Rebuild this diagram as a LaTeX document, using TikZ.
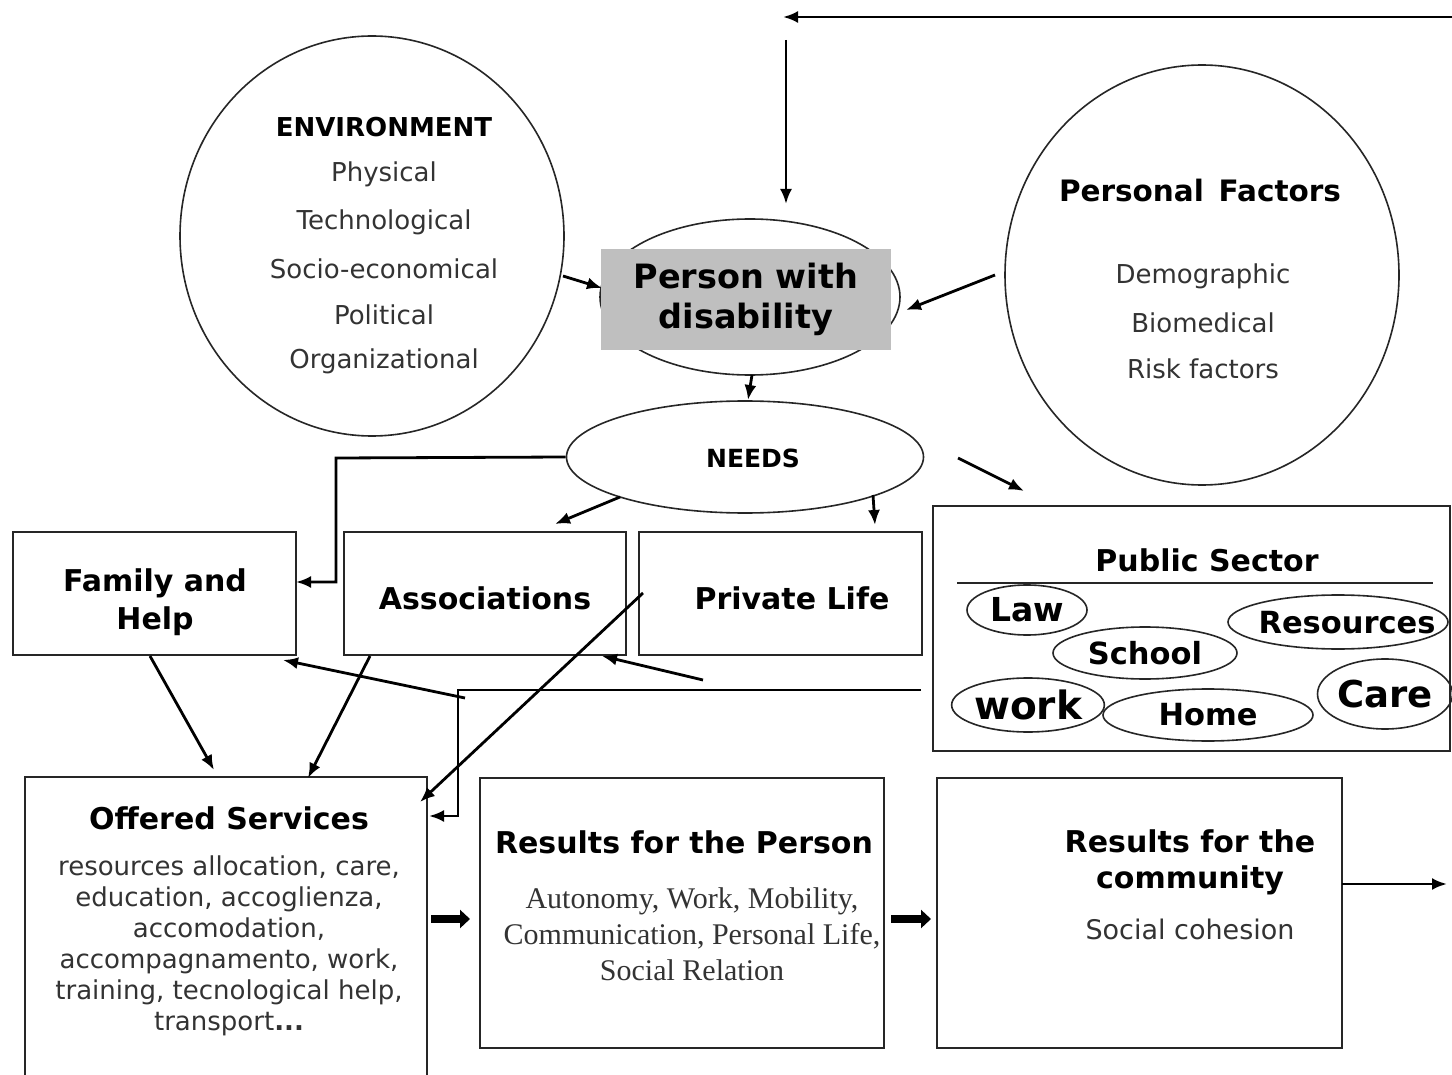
\documentclass[tikz,border=0pt]{standalone}
\usepackage{fontspec}
\setmainfont{DejaVu Sans}
\newfontfamily\serifrm{Liberation Serif}
\usetikzlibrary{shapes.geometric,arrows.meta}
\begin{document}
\begin{tikzpicture}[x=1pt,y=-1pt,
  arr/.style={line width=2.8pt,-{Latex[length=15pt,width=12pt]}},
  fatarr/.style={line width=8pt,-{Triangle[length=10pt,width=18pt]}},
  oval/.style={draw=black!85,line width=1.6pt,ellipse,inner sep=0pt},
  boxx/.style={draw=black!85,line width=2.2pt},
  body/.style={font=\fontsize{26}{30}\selectfont,text=black!80},
  ttl/.style={font=\fontsize{30}{38}\selectfont\bfseries,align=center},
  pitem/.style={font=\fontsize{30.5}{32}\selectfont\bfseries},
]
\useasboundingbox (0,0) rectangle (1452,1075);
\fill[white] (0,0) rectangle (1452,1075);

% environment
\node[oval,minimum width=384pt,minimum height=400pt] (env) at (372,236) {};
\node[font=\fontsize{26}{28}\selectfont\bfseries] (envt) at (384,127) {ENVIRONMENT};
\node[body] (e1) at (384,174) {Physical};
\node[body] (e2) at (384,222) {Technological};
\node[body] (e3) at (384,269) {Socio-economical};
\node[body] (e4) at (384,315) {Political};
\node[body] (e5) at (384,361) {Organizational};

% personal factors
\node[oval,minimum width=394pt,minimum height=420pt] (pf) at (1202,275) {};
\node[ttl,font=\fontsize{29.5}{38}\selectfont\bfseries] (pft) at (1200,191) {Personal\hspace{0.15em} Factors};
\node[body] (p1) at (1203,276) {Demographic};
\node[body] (p2) at (1203,323) {Biomedical};
\node[body] (p3) at (1203,369) {Risk factors};

% person with disability
\node[oval,minimum width=300pt,minimum height=156pt] (pov) at (750,297) {};
\node[fill=black!25,minimum width=290pt,minimum height=101pt,inner sep=0pt,align=center,
  font=\fontsize{33.5}{40}\selectfont\bfseries] (person) at (746,299.5) {Person with\\disability};

% needs
\node[oval,minimum width=357pt,minimum height=112pt] (needs) at (745,457) {};
\node[font=\fontsize{25}{26}\selectfont\bfseries] (needst) at (753,458) {NEEDS};

% middle boxes
\node[boxx,minimum width=283pt,minimum height=123pt,inner sep=0pt] (family) at (154.5,593.5) {};
\node[ttl] (familyt) at (155,602) {Family and\\Help};
\node[boxx,minimum width=282pt,minimum height=123pt,inner sep=0pt] (assoc) at (485,593.5) {};
\node[ttl] (assoct) at (485,598) {Associations};
\node[boxx,minimum width=283pt,minimum height=123pt,inner sep=0pt] (priv) at (780.5,593.5) {};
\node[ttl] (privt) at (792,598) {Private Life};

% public sector
\node[boxx,minimum width=517pt,minimum height=245pt,inner sep=0pt] (pub) at (1191.5,628.5) {};
\node[ttl] (pubt) at (1207,560) {Public Sector};
\coordinate (pl1) at (957,583);
\coordinate (pl2) at (1433,583);
\draw[line width=1.8pt,black!85] (pl1) -- (pl2);
\node[oval,minimum width=120pt,minimum height=50pt,font=\fontsize{33}{34}\selectfont\bfseries] (law) at (1027,610) {Law};
\node[oval,minimum width=184pt,minimum height=52pt,pitem] (school) at (1145,653) {School};
\node[oval,minimum width=220pt,minimum height=54pt] (res) at (1338,622) {};
\node[pitem] (rest) at (1347,623) {Resources};
\node[oval,minimum width=144pt,minimum height=54pt,font=\fontsize{39}{40}\selectfont\bfseries] (work) at (1028,705) {work};
\node[oval,minimum width=210pt,minimum height=52pt,pitem] (home) at (1208,715) {Home};
\node[oval,minimum width=120pt,minimum height=70pt,font=\fontsize{37}{40}\selectfont\bfseries] (care) at (1385,694) {Care};

% bottom boxes
\draw[boxx] (25,777) rectangle (427,1080);
\node[inner sep=0pt,minimum width=402pt,minimum height=303pt] (off) at (226,928.5) {};
\node[ttl] (offt) at (229,818) {Offered Services};
\node[body,align=center,font=\fontsize{26}{31}\selectfont] (offb) at (229,946) {resources allocation, care,\\education, accoglienza,\\accomodation,\\accompagnamento, work,\\training, tecnological help,\\transport\textbf{...}};

\node[boxx,minimum width=404pt,minimum height=270pt,inner sep=0pt] (rp) at (682,913) {};
\node[ttl] (rpt) at (684,842) {Results for the Person};
\node[align=center,font=\serifrm\fontsize{30}{36}\selectfont,text=black!80] (rpb) at (692,934) {Autonomy, Work, Mobility,\\Communication, Personal Life,\\Social Relation};

\node[boxx,minimum width=405pt,minimum height=270pt,inner sep=0pt] (rc) at (1139.5,913) {};
\node[ttl,font=\fontsize{30}{36}\selectfont\bfseries] (rct) at (1190,862) {Results for the\\community};
\node[body,font=\fontsize{27}{30}\selectfont] (rcb) at (1190,929) {Social cohesion};

% connectors
\coordinate (topR) at (1452,17);
\coordinate (topL) at (783,17);
\draw[arr] (topR) -- (topL);
\coordinate (vT) at (786,40);
\coordinate (vB) at (786,204);
\draw[arr] (vT) -- (vB);

\coordinate (envO) at (563,276);
\coordinate (perL) at (602,288);
\draw[arr] (envO) -- (perL);
\coordinate (pfO) at (995,275);
\coordinate (perR) at (906,310);
\draw[arr] (pfO) -- (perR);
\coordinate (povB) at (752,375);
\coordinate (needT) at (748,400);
\draw[arr] (povB) -- (needT);

\coordinate (nbend1) at (336,458);
\coordinate (nbend2) at (336,582);
\coordinate (famR) at (296,582);
\draw[arr] (needs.west) -- (nbend1) -- (nbend2) -- (famR);

\coordinate (nA) at (620,497);
\coordinate (assocT) at (555,524);
\draw[arr] (nA) -- (assocT);
\coordinate (nP) at (873,495);
\coordinate (privT) at (875,525);
\draw[arr] (nP) -- (privT);
\coordinate (fl1) at (958,458);
\coordinate (fl2) at (1024,491);
\draw[arr] (fl1) -- (fl2);

\coordinate (famB) at (150,656);
\coordinate (offT1) at (214,770);
\draw[arr] (famB) -- (offT1);
\coordinate (assocB) at (370,656);
\coordinate (offT2) at (308,778);
\draw[arr] (assocB) -- (offT2);
\coordinate (privL) at (643,593);
\coordinate (offTR) at (420,802);
\draw[arr] (privL) -- (offTR);

\coordinate (pubL) at (921,690);
\coordinate (pb1) at (458,690);
\coordinate (pb2) at (458,816);
\coordinate (offR) at (429,816);
\draw[arr] (pubL) -- (pb1) -- (pb2) -- (offR);

\coordinate (s1) at (465,698);
\coordinate (famBR) at (283,660);
\draw[arr] (s1) -- (famBR);
\coordinate (s2) at (703,680);
\coordinate (assocBR) at (602,656);
\draw[arr] (s2) -- (assocBR);

\coordinate (f1a) at (431,919);
\coordinate (f1b) at (470,919);
\draw[fatarr] (f1a) -- (f1b);
\coordinate (f2a) at (891,919);
\coordinate (f2b) at (931,919);
\draw[fatarr] (f2a) -- (f2b);

\coordinate (rcR) at (1342,884);
\coordinate (outR) at (1447,884);
\draw[arr] (rcR) -- (outR);
\end{tikzpicture}
\end{document}
